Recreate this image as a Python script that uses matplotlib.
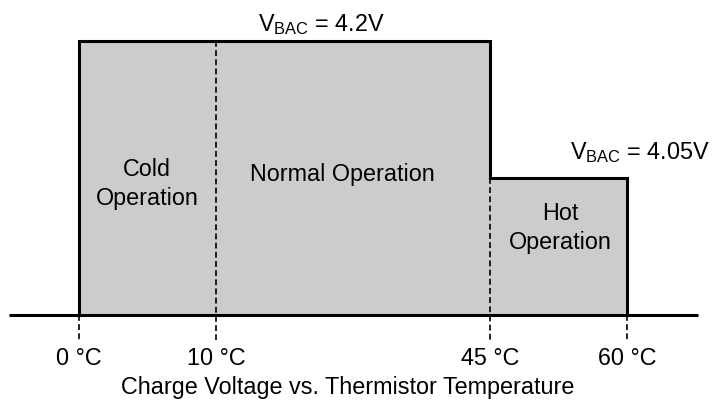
import matplotlib
matplotlib.use('Agg')
import matplotlib.pyplot as plt
import numpy as np

# --- data ---
zone_edges = [0, 10, 45, 60]                      # °C, zone boundaries
edge_labels = ['0 °C', '10 °C', '45 °C', '60 °C']
zone_names = ['Cold\nOperation', 'Normal Operation', 'Hot\nOperation']
zone_vbac = [4.2, 4.2, 4.05]                      # charge voltage per zone
v_base = 3.9
title = 'Charge Voltage vs. Thermistor Temperature'

plt.rcParams['font.family'] = ['Liberation Sans', 'DejaVu Sans']
plt.rcParams['mathtext.fontset'] = 'custom'
plt.rcParams['mathtext.rm'] = 'Liberation Sans'
FS = 16.8
W, H = 713, 400

# schematic temperature axis (not to scale)
knot_t = [-10, 0, 10, 45, 60, 75]
knot_s = [-1, 0, 1, 3, 4, 5]


def fwd(t):
    return np.interp(t, knot_t, knot_s)


def inv(s):
    return np.interp(s, knot_s, knot_t)


fig = plt.figure(figsize=(W / 100, H / 100), dpi=100)
ax = fig.add_axes([0, 0, 1, 1])
ax.set_xscale('function', functions=(fwd, inv))
ax.set_xlim(-5.766, 69.42)
ax.set_ylim(3.8069, 4.2449)
ax.axis('off')

# fill
ax.fill_between(zone_edges, zone_vbac + [zone_vbac[-1]], v_base, step='post',
                color='#cccccc', lw=0, zorder=1)

# dashed boundary markers
for i, e in enumerate(zone_edges):
    left = zone_vbac[i - 1] if i > 0 else v_base
    right = zone_vbac[i] if i < len(zone_vbac) else v_base
    ax.plot([e, e], [min(left, right), 3.8726], color='black', lw=1.2,
            dashes=(3.5, 2), zorder=2, clip_on=False)

# outline
xs = [zone_edges[0]]
ys = [v_base]
for i, lv in enumerate(zone_vbac):
    xs += [zone_edges[i], zone_edges[i + 1]]
    ys += [lv, lv]
xs.append(zone_edges[-1])
ys.append(v_base)
ax.plot(xs, ys, color='black', lw=2.2, solid_joinstyle='miter', zorder=3)

# baseline
ax.plot([-5.11, 67.77], [v_base, v_base], color='black', lw=2.2, zorder=3,
        solid_capstyle='butt')

# edge labels
for e, lab in zip(zone_edges, edge_labels):
    ax.text(e, 1 - 365 / H, lab, transform=ax.get_xaxis_transform(),
            ha='center', va='baseline', fontsize=FS)

# zone labels
zone_xy = [(147, 184), (342, 174), (560, 228)]
for name, (px, py) in zip(zone_names, zone_xy):
    fig.text(px / W, 1 - py / H, name, ha='center', va='center',
             multialignment='center', fontsize=FS, linespacing=1.32)

# voltage labels
fig.text(321.5 / W, 1 - 31 / H, r'$\mathregular{V_{BAC}}$ = %.1fV' % zone_vbac[0],
         ha='center', va='baseline', fontsize=FS)
fig.text(640 / W, 1 - 159 / H, r'$\mathregular{V_{BAC}}$ = %.2fV' % zone_vbac[2],
         ha='center', va='baseline', fontsize=FS)

fig.text(348 / W, 1 - 394 / H, title, ha='center', va='baseline', fontsize=FS)

fig.savefig('out.png', dpi=100)
